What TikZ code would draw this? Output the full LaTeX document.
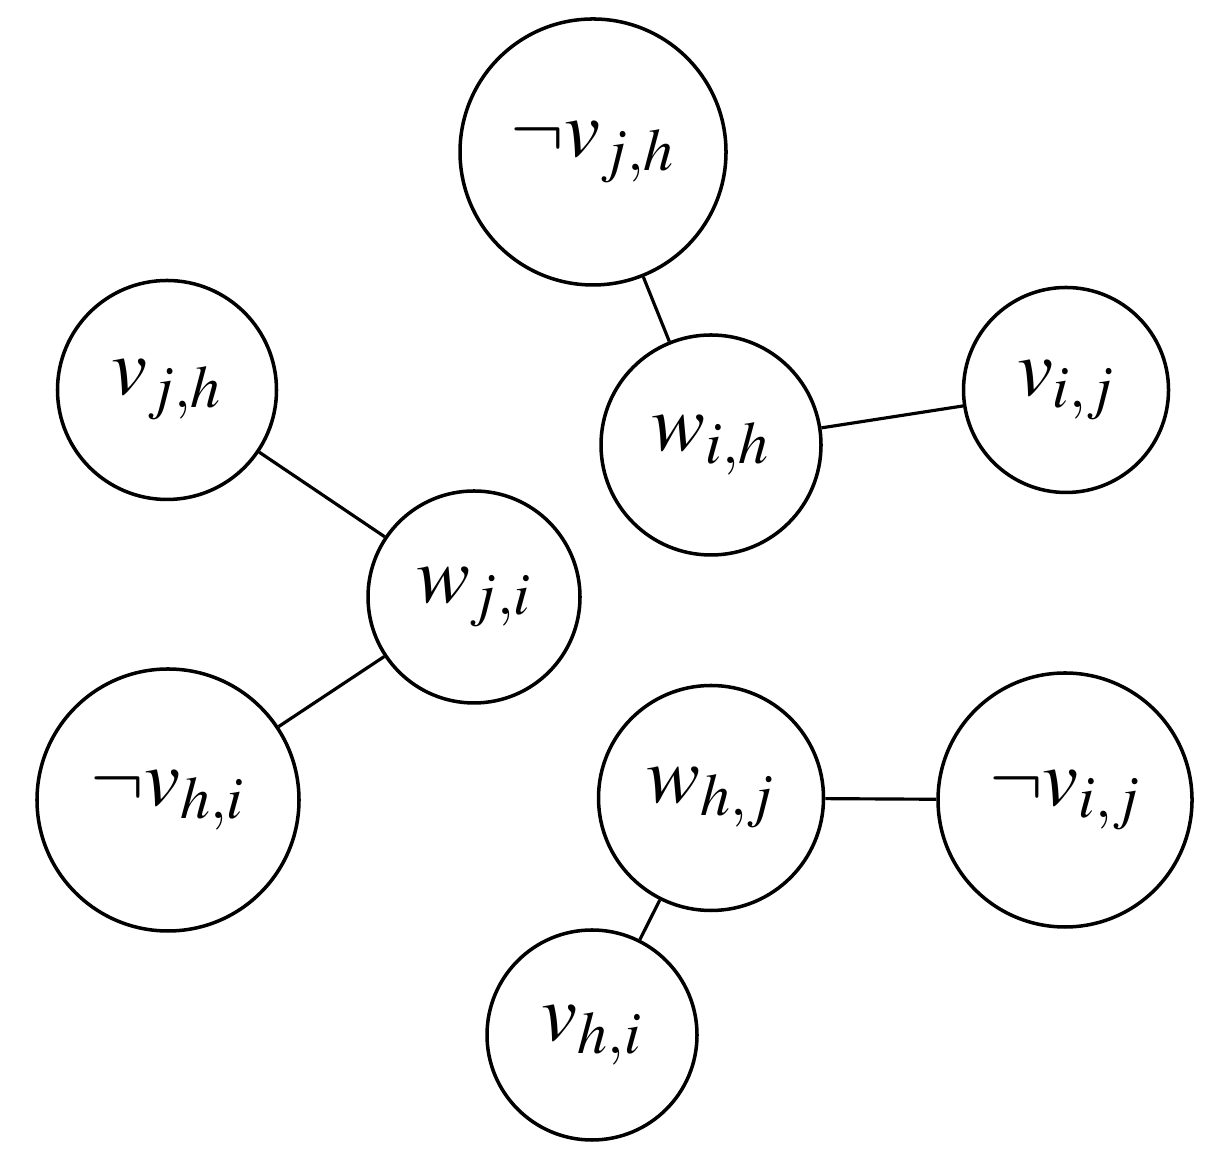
\documentclass[tikz,border=0pt]{standalone}
\usepackage{amssymb,amsmath}
\usepackage{mathptmx}
\usepackage{tikz}
\usetikzlibrary{positioning}

\begin{document}
\begin{tikzpicture}[vert/.style={draw, circle, line width=1pt, inner sep=0pt, font=\fontsize{23}{27}\selectfont}]
        \useasboundingbox (0,0) rectangle (12.22,11.70);
        % upper group
        \node[vert, minimum size=2.66cm] (nvjh) at (5.93,10.18) {$\neg v_{j,h}$};
        \node[vert, minimum size=2.20cm] (wih) at (7.11,7.25) {$w_{i,h}$};
        \node[vert, minimum size=2.05cm] (vij) at (10.66,7.80) {$v_{i,j}$};
        
        % left group
        \node[vert, minimum size=2.19cm] (vjh) at (1.67,7.80) {$v_{j,h}$};
        \node[vert, minimum size=2.12cm] (wji) at (4.74,5.73) {$w_{j,i}$};
        \node[vert, minimum size=2.62cm] (nvhi) at (1.68,3.70) {$\neg v_{h,i}$};
        
        % lower group
        \node[vert, minimum size=2.25cm] (whj) at (7.11,3.72) {$w_{h,j}$};
        \node[vert, minimum size=2.54cm] (nvij) at (10.65,3.70) {$\neg v_{i,j}$};
        \node[vert, minimum size=2.10cm] (vhi) at (5.92,1.35) {$v_{h,i}$};
        
        % edges
        \draw[line width=0.9pt] (nvjh) -- (wih);
        \draw[line width=0.9pt] (wih) -- (vij);
        \draw[line width=0.9pt] (vjh) -- (wji);
        \draw[line width=0.9pt] (wji) -- (nvhi);
        \draw[line width=0.9pt] (whj) -- (nvij);
        \draw[line width=0.9pt] (whj) -- (vhi);
        
    \end{tikzpicture}
\end{document}
